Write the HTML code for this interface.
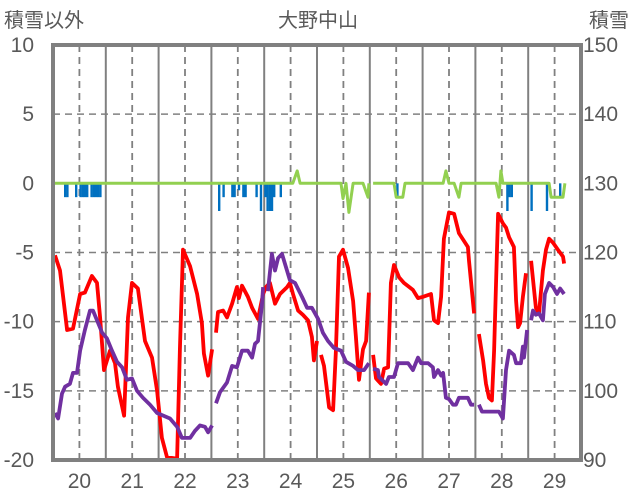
<!DOCTYPE html>
<html><head><meta charset="utf-8"><style>
html,body{margin:0;padding:0;background:#fff;}
svg{display:block;font-family:"Liberation Sans","Noto Sans CJK JP",sans-serif;}
</style></head><body>
<svg id="chart" width="636" height="501" viewBox="0 0 636 501" xmlns="http://www.w3.org/2000/svg">
<text x="4" y="27" font-size="20" fill="#595959">積雪以外</text>
<text x="318" y="27" font-size="20" fill="#595959" text-anchor="middle">大野中山</text>
<text x="589" y="27" font-size="20" fill="#595959">積雪</text>
<g id="grid"></g><g id="series"></g><g id="axes"></g>
</svg>
<script>
const dayLabels = ["20","21","22","23","24","25","26","27","28","29"];
const leftTicks = [10,5,0,-5,-10,-15,-20];
const rightTicks = ["150","140","130","120","110","100","90"];
const redT = [0.9,3.2,6.4,9.1,12.3,14.5,17.7,20,21.4,23.2,25.9,28.2,29.5,32.3,34.1,35.9,38.6,41.8,45,47.3,49.5,51.8,56.4,57.7,59.1,62.3,65.5,67.7,68.6,70.5,72.3,73,74.1,75,77.3,79.1,81.4,83.6,84.5,85.9,88.6,90.5,93.2,95.5,96.8,98.6,100.9,103.2,106.4,107.7,109.1,111.4,113.6,115.9,117.7,118.6,120,120.8,121.8,123.2,125.5,127.3,128.6,130,131.8,134.1,136.4,137.7,139.1,140.9,142.3,143.6,144.5,145.5,146.8,149.1,150.5,152.3,153.6,155,157.3,159.5,163.6,165.9,168.2,171.8,173.2,175,176.4,177.7,180,182.3,184.5,188.6,189.1,191.4,192.5,193.6,195.5,196.8,198.2,199.5,200.5,201.8,202.3,204.5,205.9,207.3,209.5,210.5,211.4,212.3,213.6,215,216,217.3,219.5,220.9,222.7,224.1,225.5,227.3,229.5,231.8,232.3];
const red = [-5.2,-6.3,-10.6,-10.5,-8,-7.9,-6.7,-7.2,-9.7,-13.5,-12.1,-13,-14.7,-16.8,-9.7,-7.2,-7.6,-11.4,-12.6,-15,-18.4,-19.8,-19.9,-12,-4.8,-6,-8,-10.1,-12.3,-13.9,-12,null,-10.8,-9.3,-9.2,-9.7,-8.7,-7.5,-8.3,-7.4,-8.2,-9,-9.8,-8,-7.5,-7.2,-8.7,-8,-7.5,-7.2,-8,-9.2,-9.5,-9.9,-11.1,-12.8,-11.4,null,-12.4,-13.2,-16.2,-16.4,-12.1,-5.3,-4.8,-6.1,-8.5,-11.1,-14.2,-12,-11.4,-7.9,null,-12.4,-14.1,-14.5,-13.4,-13.3,-7.2,-5.9,-6.8,-7.2,-7.7,-8.3,-8.2,-8,-9.9,-10.1,-8.2,-4,-2.1,-2.2,-3.6,-4.6,-5.6,-9.4,null,-10.9,-12.8,-14.5,-15.5,-15.7,-12.1,-4.8,-2.2,-2.9,-3.2,-3.9,-4.6,-8.5,-10.4,-10.1,-8.2,-6.5,null,-5.6,-9,-9.4,-6.3,-4.8,-4,-4.3,-4.8,-5.3,-5.8];
const snowT = [0.9,2.3,4.1,5.5,7.7,9.1,10.9,12.3,14.5,16.8,18.2,20,22.3,24.5,26.8,29.1,31.4,33.6,35.9,38.2,40.9,44.1,47.3,53.2,56.4,58.6,62.3,64.5,66.8,69.1,70.5,72.3,73,74.1,75.9,79.1,81.4,83.6,85.9,88.6,90.5,91.8,93.2,95,95.5,96.5,97.7,99.5,100.9,102.3,104.1,107.7,110,113.2,115.5,117.7,120.5,122.7,125,127.7,130.9,133.2,136.4,138.6,141.4,143.6,144.5,145.5,147.7,148.2,151.4,152.7,155,156.8,161.4,163.6,165.9,167.3,170.5,172.7,173.2,175,176.4,177.3,178.6,180,181.8,183.2,184.5,188.6,190,191.4,192.5,193.6,195,202.7,204.5,205.9,207.3,209.5,210.5,212.7,213.6,214.1,215.5,216.4,217.3,218.2,219.5,220.9,222.7,223.6,225.5,227.3,229.1,230.5,232.3];
const snow = [96.8,96,99.6,100.6,101,102.6,102.6,105.8,108.8,111.6,111.6,110.2,108.4,107.6,105.8,104.2,103.4,101.6,101.8,100,99,98,96.8,96,94.8,93.2,93.2,94.2,95,94.8,94,95,null,98.2,99.8,101.2,103.6,103.4,105.8,105.8,104.8,106.8,107.2,112.6,115,null,114.4,119.8,117.4,119.2,119.8,116,115.6,113.6,112,112,110.4,108.4,107.2,106.2,105.8,104.2,103.6,103,103,104,null,103.2,103,102,101,102,102,104,104,103,104.8,104,104,103.4,102,103,102.2,102.6,99,98.8,98,98,99,99,98,98,null,98,97,97,96,103,105.8,105.2,104,104,106.4,104.8,108.8,null,110.2,111.6,111,111.2,110.2,114,115.6,115,114,114.8,114];
const greenT = [0,109,111,112.3,130.9,131.8,133.2,134.5,136.4,140.9,143.2,143.6,144.5,145.5,155,156,159,160,177.3,178.6,180,182.3,184.5,185.5,201.4,202.7,203.6,204.5,225.5,226.4,231.8,232.7];
const green = [0,0,0.9,0,0,-1.1,0,-2.1,0,0,-1,0,null,0,0,-1,-1,0,0,0.9,0,0,-1,0,0,-1,0.9,0,0,-1,-1,0];
const barT = [5,6,10,12,13,14,15,17,18,19,20,21,75,77,81,82,84,86,87,92,94,96,97,98,99,100,103,156,206,207,208,217,224,230];
const barV = [-1,-1,-1,-1,-1,-1,-1,-1,-1,-1,-1,-1,-2,-1,-1,-1,-0.5,-1,-1,-1,-2,-1,-2,-2,-2,-1,-1,-1,-2,-1,-1,-2,-2,-1];

const X0=53,X1=581,Y0=45,Y1=460,HOURS=240;
const xs=h=>X0+(h/HOURS)*(X1-X0);
const yL=v=>Y0+(10-v)/30*(Y1-Y0);
const yR=v=>Y0+(150-v)/60*(Y1-Y0);
const NS="http://www.w3.org/2000/svg";
function mk(tag,attrs,parent){const e=document.createElementNS(NS,tag);for(const k in attrs)e.setAttribute(k,attrs[k]);parent.appendChild(e);return e;}
const grid=document.getElementById('grid'),series=document.getElementById('series'),axes=document.getElementById('axes');

leftTicks.forEach((t,i)=>{
  const y=yL(t);
  if(t<10&&t>-20&&t!==0){const l=mk('line',{x1:X0,x2:X1,y1:y,y2:y,stroke:'#808080','stroke-width':1.5,'stroke-dasharray':'7,5'},grid);
  
  }
  const tx=mk('text',{x:34,y:y+7,'font-size':21,fill:'#595959','text-anchor':'end'},axes);tx.textContent=t;
  
  
  const tr=mk('text',{x:583,y:y+7,'font-size':21,fill:'#595959'},axes);tr.textContent=rightTicks[i];
  
  
});
dayLabels.forEach((d,i)=>{
  const xn=xs(i*24+12);
  const l=mk('line',{x1:xn,x2:xn,y1:Y0,y2:Y1,stroke:'#808080','stroke-width':1.8,'stroke-dasharray':'7,5'},grid);
  
  
  if(i>0){const xm=xs(i*24);const s=mk('line',{x1:xm,x2:xm,y1:Y0,y2:Y1,stroke:'#808080','stroke-width':2},grid);
  
  }
  const tx=mk('text',{x:xn,y:488,'font-size':21,fill:'#595959','text-anchor':'middle'},axes);tx.textContent=d;
  
  
});
barT.forEach((h,i)=>{
  const x=xs(h),w=xs(h+1)-x+0.2;
  const r=mk('rect',{x:x,y:yL(0),width:w,height:yL(barV[i])-yL(0),fill:'#0070C0'},series);
  
  
});
function path(T,V,yf){let d='',pen=false;T.forEach((t,i)=>{const v=V[i];if(v===null){pen=false;return;}d+=(pen?'L':'M')+xs(t).toFixed(1)+','+yf(v).toFixed(1);pen=true;});return d;}
const g=mk('path',{d:path(greenT,green,yL),fill:'none',stroke:'#92D050','stroke-width':3,'stroke-linejoin':'round'},series);


const rp=mk('path',{d:path(redT,red,yL),fill:'none',stroke:'#FF0000','stroke-width':3.8,'stroke-linejoin':'round'},series);


const pp=mk('path',{d:path(snowT,snow,yR),fill:'none',stroke:'#7030A0','stroke-width':3.8,'stroke-linejoin':'round'},series);


const b=mk('rect',{x:X0,y:Y0,width:X1-X0,height:Y1-Y0,fill:'none',stroke:'#808080','stroke-width':4},axes);


</script>
</body></html>
